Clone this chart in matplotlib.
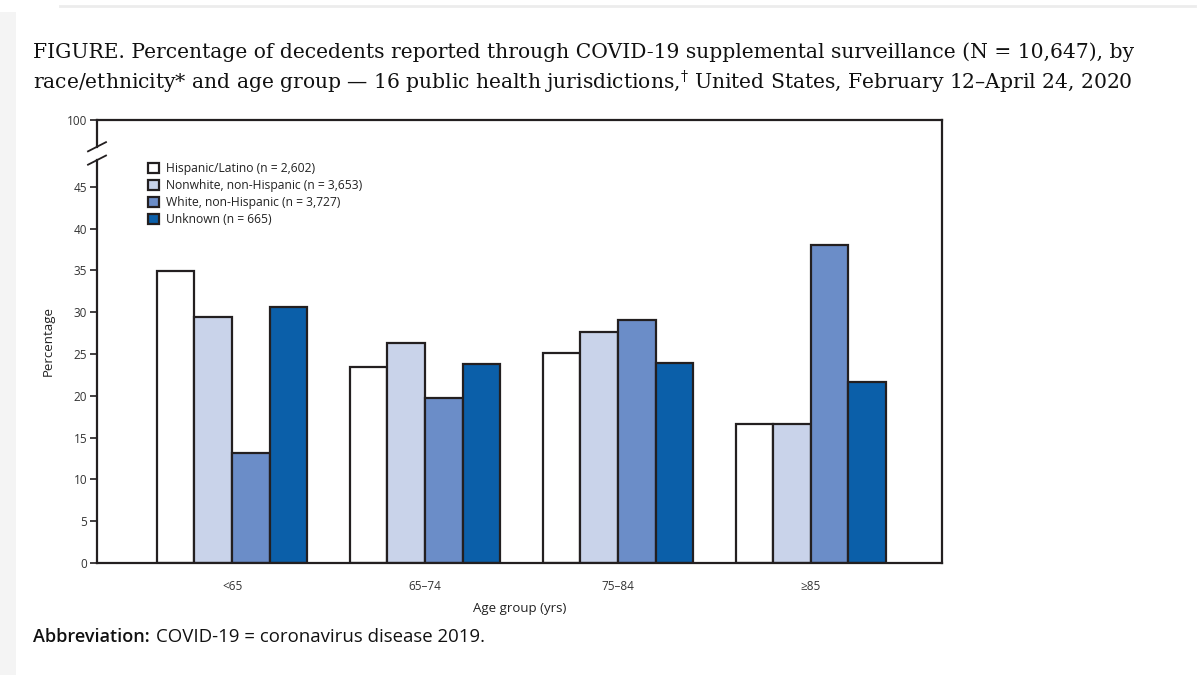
import numpy as np
import matplotlib
matplotlib.use('Agg')
import matplotlib.pyplot as plt
from matplotlib.patches import Rectangle
import matplotlib.transforms as mtransforms

# data
age_groups = ['<65', '65–74', '75–84', '≥85']
series_labels = ['Hispanic/Latino (n = 2,602)',
                 'Nonwhite, non-Hispanic (n = 3,653)',
                 'White, non-Hispanic (n = 3,727)',
                 'Unknown (n = 665)']
hispanic = [34.9, 23.5, 25.1, 16.6]
nonwhite = [29.4, 26.3, 27.6, 16.6]
white = [13.2, 19.7, 29.1, 38.1]
unknown = [30.6, 23.8, 23.9, 21.7]
ytick_vals = [0, 5, 10, 15, 20, 25, 30, 35, 40, 45, 53]
ytick_labels = ['0', '5', '10', '15', '20', '25', '30', '35', '40', '45', '100']

colors = ['#ffffff', '#c9d3ea', '#6b8dc8', '#0b5fa9']
edge = '#231f20'
sans = ['Open Sans', 'DejaVu Sans']

plt.rcParams['mathtext.fontset'] = 'dejavuserif'

fig = plt.figure(figsize=(12, 6.75), dpi=100)
fig.patch.set_facecolor('white')

# page frame bits
fig.patches.append(Rectangle((0, 0), 16 / 1200, 1 - 12 / 675, transform=fig.transFigure,
                             facecolor='#f4f4f4', edgecolor='none', zorder=0))
fig.add_artist(plt.Line2D([60 / 1200, 1195 / 1200], [1 - 6 / 675, 1 - 6 / 675],
                          transform=fig.transFigure, color='#ececec', lw=2))

ax = fig.add_axes([97 / 1200, 112 / 675, 845 / 1200, 443 / 675])

x = np.arange(len(age_groups))
w = 0.195
for i, (vals, lab) in enumerate(zip([hispanic, nonwhite, white, unknown], series_labels)):
    ax.bar(x + (i - 1.5) * w, vals, width=w, color=colors[i], edgecolor=edge,
           linewidth=1.6, label=lab, zorder=2)

ax.set_xlim(-0.70, 3.68)
ax.set_ylim(0, 53)

ax.set_xticks(x)
ax.set_xticklabels(age_groups, family=sans, fontsize=8.5, color='#333333')
ax.tick_params(axis='x', length=0, pad=12)
ax.set_yticks(ytick_vals)
ax.set_yticklabels(ytick_labels, family=sans, fontsize=8.5, color='#333333')
ax.tick_params(axis='y', length=5, width=1.2, color=edge, pad=2)

ax.set_xlabel('Age group (yrs)', family=sans, fontsize=9.5, color='#222222', labelpad=7)
ax.set_ylabel('Percentage', family=sans, fontsize=9.5, color='#222222', labelpad=9)

for s in ['top', 'right', 'bottom']:
    ax.spines[s].set_linewidth(1.6)
    ax.spines[s].set_color(edge)
ax.spines['left'].set_visible(False)

# left spine with axis break
trans = mtransforms.blended_transform_factory(ax.transAxes, ax.transData)
ax.plot([0, 0], [0, 48.2], transform=trans, color=edge, lw=1.6, clip_on=False, zorder=5)
ax.plot([0, 0], [49.8, 53], transform=trans, color=edge, lw=1.6, clip_on=False, zorder=5)
dx = 9 / 845
dy = 0.55
for yb in [48.2, 49.8]:
    ax.plot([-dx, dx], [yb - dy, yb + dy], transform=trans, color=edge, lw=1.3,
            clip_on=False, zorder=5)

leg = ax.legend(loc='upper left', bbox_to_anchor=(0.060, 0.905), frameon=False,
                prop={'family': sans, 'size': 8.7}, handlelength=0.95, handleheight=0.95,
                handletextpad=0.55, labelspacing=0.33, borderpad=0, borderaxespad=0)
for t in leg.get_texts():
    t.set_color('#222222')

# title
fig.text(33 / 1200, 1 - 42 / 675,
         'FIGURE. Percentage of decedents reported through COVID-19 supplemental surveillance (N = 10,647), by',
         family=['DejaVu Serif'], fontsize=14.6, color='#111111', va='top', ha='left')
fig.text(33 / 1200, 1 - 69 / 675,
         'race/ethnicity* and age group — 16 public health jurisdictions,$^{\\dagger}$ United States, February 12–April 24, 2020',
         family=['DejaVu Serif'], fontsize=14.6, color='#111111', va='top', ha='left')

# footnote
t1 = fig.text(33 / 1200, 1 - 637 / 675, 'Abbreviation:', family=sans, fontsize=13,
              fontweight=600, color='#111111', va='center', ha='left')
fig.canvas.draw()
bb = t1.get_window_extent()
fig.text(bb.x1 / 1200 + 6 / 1200, 1 - 637 / 675, 'COVID-19 = coronavirus disease 2019.',
         family=sans, fontsize=13.4, color='#111111', va='center', ha='left')

fig.savefig('out.png', dpi=100)
